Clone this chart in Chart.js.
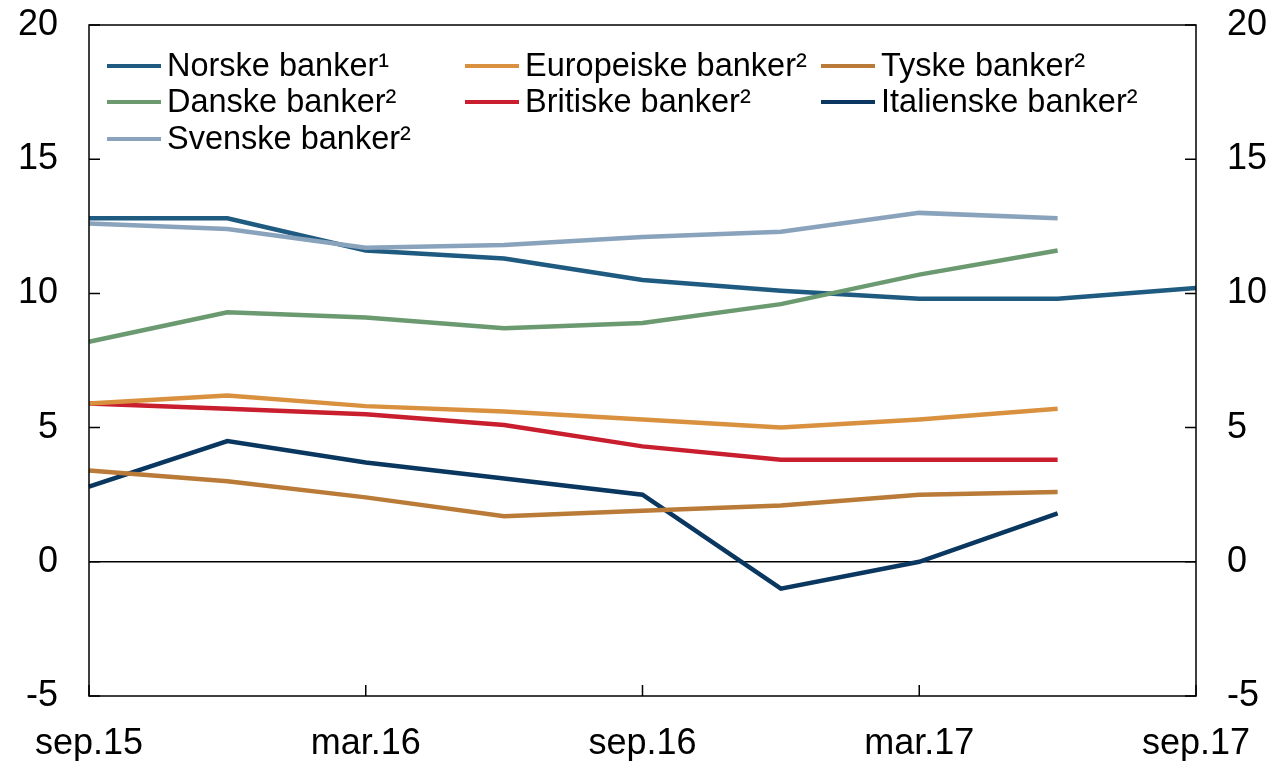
<!DOCTYPE html>
<html>
<head>
<meta charset="utf-8">
<script src="https://cdn.jsdelivr.net/npm/chart.js@4"></script>
<style>
  html, body { margin: 0; padding: 0; background: #fff; }
  #wrap { width: 1274px; height: 761px; }
</style>
</head>
<body>
<div id="wrap"><canvas id="chart" width="1274" height="761"></canvas></div>
<script>
// quarters, sep.15 to sep.17
const quarters = ['sep.15', 'des.15', 'mar.16', 'jun.16', 'sep.16', 'des.16', 'mar.17', 'jun.17', 'sep.17'];
const yTicks = [-5, 0, 5, 10, 15, 20];

const norske = [12.8, 12.8, 11.6, 11.3, 10.5, 10.1, 9.8, 9.8, 10.2];
const europeiske = [5.9, 6.2, 5.8, 5.6, 5.3, 5.0, 5.3, 5.7, null];
const tyske = [3.4, 3.0, 2.4, 1.7, 1.9, 2.1, 2.5, 2.6, null];
const danske = [8.2, 9.3, 9.1, 8.7, 8.9, 9.6, 10.7, 11.6, null];
const britiske = [5.9, 5.7, 5.5, 5.1, 4.3, 3.8, 3.8, 3.8, null];
const italienske = [2.8, 4.5, 3.7, 3.1, 2.5, -1.0, 0.0, 1.8, null];
const svenske = [12.6, 12.4, 11.7, 11.8, 12.1, 12.3, 13.0, 12.8, null];

const FONT = '"Liberation Sans", Arial, sans-serif';

function series(label, data, color, order) {
  return {
    label: label,
    data: data,
    borderColor: color,
    backgroundColor: color,
    borderWidth: 4.5,
    pointRadius: 0,
    tension: 0,
    spanGaps: false,
    order: order || 0,
  };
}

// legend drawn in three fixed columns like the original
const legendPlugin = {
  id: 'colLegend',
  afterDraw(chart) {
    const ctx = chart.ctx;
    const cols = [107, 465, 821];
    const rows = [66, 102, 139];
    ctx.save();
    ctx.font = '32.5px ' + FONT;
    ctx.textBaseline = 'middle';
    ctx.fillStyle = '#000';
    chart.data.datasets.forEach((ds, i) => {
      const x = cols[i % 3];
      const y = rows[Math.floor(i / 3)];
      ctx.strokeStyle = ds.borderColor;
      ctx.lineWidth = 4;
      ctx.beginPath();
      ctx.moveTo(x, y);
      ctx.lineTo(x + 54, y);
      ctx.stroke();
      ctx.fillText(ds.label, x + 60, y + 1);
    });
    ctx.restore();
  }
};

// frame and inward tick marks
const framePlugin = {
  id: 'frame',
  afterDatasetsDraw(chart) {
    const ctx = chart.ctx;
    const a = chart.chartArea;
    const y = chart.scales.y;
    const x = chart.scales.x;
    ctx.save();
    ctx.strokeStyle = '#000';
    ctx.lineWidth = 1.5;
    ctx.strokeRect(a.left, a.top, a.right - a.left, a.bottom - a.top);
    ctx.beginPath();
    y.ticks.forEach(t => {
      const py = y.getPixelForValue(t.value);
      ctx.moveTo(a.left, py);
      ctx.lineTo(a.left + 11, py);
      ctx.moveTo(a.right, py);
      ctx.lineTo(a.right - 11, py);
    });
    x.ticks.forEach((t, i) => {
      if (i % 2 !== 0) return;
      const px = x.getPixelForTick(i);
      ctx.moveTo(px, a.bottom);
      ctx.lineTo(px, a.bottom - 11);
    });
    ctx.stroke();
    ctx.restore();
  }
};

const yScale = (pos) => ({
  position: pos,
  min: -5,
  max: 20,
  afterBuildTicks(scale) { scale.ticks = yTicks.map(v => ({ value: v })); },
  afterFit(scale) {
    scale.width = pos === 'left' ? 89 : 78;
    scale.paddingTop = 0;
    scale.paddingBottom = 0;
  },
  border: { display: false },
  grid: {
    drawTicks: false,
    drawOnChartArea: pos === 'left',
    color: ctx => (ctx.tick && ctx.tick.value === 0 ? '#000' : 'rgba(0,0,0,0)'),
    lineWidth: 1.5,
  },
  ticks: {
    padding: 31,
    color: '#000',
    font: { family: FONT, size: 36 },
  },
});

new Chart(document.getElementById('chart'), {
  type: 'line',
  data: {
    labels: quarters,
    datasets: [
      series('Norske banker¹', norske, '#1f5b80', 1),
      series('Europeiske banker²', europeiske, '#d9913f'),
      series('Tyske banker²', tyske, '#b97b37'),
      series('Danske banker²', danske, '#6b9a70'),
      series('Britiske banker²', britiske, '#c81e2e'),
      series('Italienske banker²', italienske, '#0a3760'),
      series('Svenske banker²', svenske, '#8aa3bc'),
    ],
  },
  options: {
    responsive: false,
    animation: false,
    layout: { padding: { top: 25, left: 0, right: 0, bottom: 0 } },
    plugins: {
      legend: { display: false },
      tooltip: { enabled: false },
    },
    scales: {
      x: {
        offset: false,
        afterFit(scale) {
          scale.height = 65;
          scale.paddingLeft = 0;
          scale.paddingRight = 0;
        },
        border: { display: false },
        grid: { display: false, drawTicks: false },
        ticks: {
          autoSkip: false,
          maxRotation: 0,
          padding: 26,
          color: '#000',
          font: { family: FONT, size: 36 },
          callback: (v, i) => (i % 2 === 0 ? quarters[i] : ''),
        },
      },
      y: yScale('left'),
      y2: yScale('right'),
    },
  },
  plugins: [legendPlugin, framePlugin],
});
</script>
</body>
</html>
